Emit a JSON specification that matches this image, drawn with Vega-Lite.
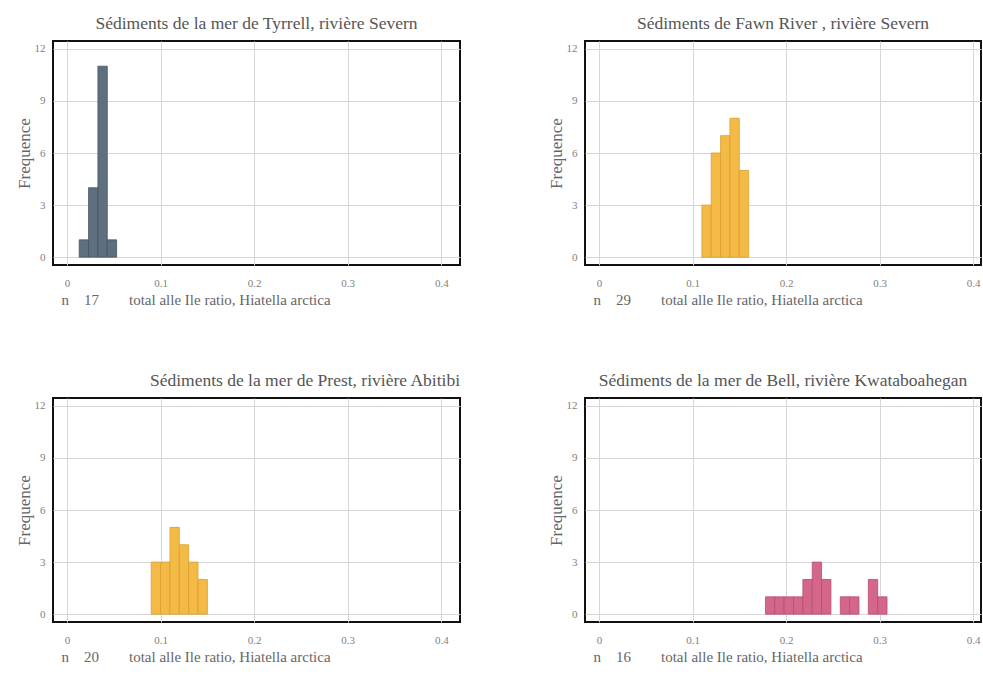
{
  "$schema": "https://vega.github.io/schema/vega-lite/v6.json",
  "background": "white",
  "padding": {"left": 14, "top": 13, "right": 0, "bottom": 0},
  "datasets": {
    "bars": [
      {"panel": 1, "x0": 0.013, "x1": 0.023, "count": 1},
      {"panel": 1, "x0": 0.023, "x1": 0.033, "count": 4},
      {"panel": 1, "x0": 0.033, "x1": 0.043, "count": 11},
      {"panel": 1, "x0": 0.043, "x1": 0.053, "count": 1},
      {"panel": 2, "x0": 0.11, "x1": 0.12, "count": 3},
      {"panel": 2, "x0": 0.12, "x1": 0.13, "count": 6},
      {"panel": 2, "x0": 0.13, "x1": 0.14, "count": 7},
      {"panel": 2, "x0": 0.14, "x1": 0.15, "count": 8},
      {"panel": 2, "x0": 0.15, "x1": 0.16, "count": 5},
      {"panel": 3, "x0": 0.09, "x1": 0.10, "count": 3},
      {"panel": 3, "x0": 0.10, "x1": 0.11, "count": 3},
      {"panel": 3, "x0": 0.11, "x1": 0.12, "count": 5},
      {"panel": 3, "x0": 0.12, "x1": 0.13, "count": 4},
      {"panel": 3, "x0": 0.13, "x1": 0.14, "count": 3},
      {"panel": 3, "x0": 0.14, "x1": 0.15, "count": 2},
      {"panel": 4, "x0": 0.178, "x1": 0.188, "count": 1},
      {"panel": 4, "x0": 0.188, "x1": 0.198, "count": 1},
      {"panel": 4, "x0": 0.198, "x1": 0.208, "count": 1},
      {"panel": 4, "x0": 0.208, "x1": 0.218, "count": 1},
      {"panel": 4, "x0": 0.218, "x1": 0.228, "count": 2},
      {"panel": 4, "x0": 0.228, "x1": 0.238, "count": 3},
      {"panel": 4, "x0": 0.238, "x1": 0.248, "count": 2},
      {"panel": 4, "x0": 0.258, "x1": 0.268, "count": 1},
      {"panel": 4, "x0": 0.268, "x1": 0.278, "count": 1},
      {"panel": 4, "x0": 0.288, "x1": 0.298, "count": 2},
      {"panel": 4, "x0": 0.298, "x1": 0.308, "count": 1}
    ]
  },
  "config": {
    "font": "Liberation Serif",
    "view": {"stroke": "#111111", "strokeWidth": 2},
    "title": {"fontSize": 17.5, "fontWeight": "normal", "color": "#555555", "offset": 9},
    "axis": {
      "grid": true,
      "gridColor": "#d6d6d6",
      "gridWidth": 1,
      "domain": false,
      "ticks": false,
      "labelColor": "#808080",
      "labelFontSize": 11,
      "titleColor": "#666666",
      "titleFontWeight": "normal",
      "titleFontSize": 15
    },
    "axisX": {"labelPadding": 12},
    "axisY": {"labelPadding": 8, "titlePadding": 1, "titleFontSize": 17}
  },
  "vconcat": [
    {
      "hconcat": [
        {
          "title": {"text": "Sédiments de la mer de Tyrrell, rivière Severn"},
          "width": 407, "height": 224,
          "data": {"name": "bars"},
          "transform": [{"filter": "datum.panel == 1"}],
          "mark": {"type": "rect", "color": "#5e6f80", "stroke": "#465666", "strokeWidth": 0.8},
          "encoding": {
            "x": {"field": "x0", "type": "quantitative", "scale": {"domain": [-0.015, 0.42], "nice": false, "zero": false},
                  "axis": {"values": [0, 0.1, 0.2, 0.3, 0.4], "format": "~g", "title": "n\u00a0\u00a0\u00a0\u00a017\u00a0\u00a0\u00a0\u00a0\u00a0\u00a0\u00a0\u00a0total alle Ile ratio, Hiatella arctica", "titleAnchor": "start", "titleAlign": "left", "titleX": 8, "titleY": 27}},
            "x2": {"field": "x1"},
            "y": {"field": "count", "type": "quantitative", "scale": {"domain": [-0.45, 12.45], "nice": false, "zero": false},
                  "axis": {"values": [0, 3, 6, 9, 12], "title": "Frequence"}},
            "y2": {"datum": 0}
          }
        },
        {
          "title": {"text": "Sédiments de Fawn River , rivière Severn"},
          "width": 396, "height": 224,
          "data": {"name": "bars"},
          "transform": [{"filter": "datum.panel == 2"}],
          "mark": {"type": "rect", "color": "#f3bb45", "stroke": "#d9a030", "strokeWidth": 0.8},
          "encoding": {
            "x": {"field": "x0", "type": "quantitative", "scale": {"domain": [-0.015, 0.4085], "nice": false, "zero": false},
                  "axis": {"values": [0, 0.1, 0.2, 0.3, 0.4], "format": "~g", "title": "n\u00a0\u00a0\u00a0\u00a029\u00a0\u00a0\u00a0\u00a0\u00a0\u00a0\u00a0\u00a0total alle Ile ratio, Hiatella arctica", "titleAnchor": "start", "titleAlign": "left", "titleX": 8, "titleY": 27}},
            "x2": {"field": "x1"},
            "y": {"field": "count", "type": "quantitative", "scale": {"domain": [-0.45, 12.45], "nice": false, "zero": false},
                  "axis": {"values": [0, 3, 6, 9, 12], "title": "Frequence"}},
            "y2": {"datum": 0}
          }
        }
      ],
      "spacing": 85
    },
    {
      "hconcat": [
        {
          "title": {"text": "Sédiments de la mer de Prest, rivière Abitibi", "anchor": "end"},
          "width": 407, "height": 224,
          "data": {"name": "bars"},
          "transform": [{"filter": "datum.panel == 3"}],
          "mark": {"type": "rect", "color": "#f3bb45", "stroke": "#d9a030", "strokeWidth": 0.8},
          "encoding": {
            "x": {"field": "x0", "type": "quantitative", "scale": {"domain": [-0.015, 0.42], "nice": false, "zero": false},
                  "axis": {"values": [0, 0.1, 0.2, 0.3, 0.4], "format": "~g", "title": "n\u00a0\u00a0\u00a0\u00a020\u00a0\u00a0\u00a0\u00a0\u00a0\u00a0\u00a0\u00a0total alle Ile ratio, Hiatella arctica", "titleAnchor": "start", "titleAlign": "left", "titleX": 8, "titleY": 27}},
            "x2": {"field": "x1"},
            "y": {"field": "count", "type": "quantitative", "scale": {"domain": [-0.45, 12.45], "nice": false, "zero": false},
                  "axis": {"values": [0, 3, 6, 9, 12], "title": "Frequence"}},
            "y2": {"datum": 0}
          }
        },
        {
          "title": {"text": "Sédiments de la mer de Bell, rivière Kwataboahegan"},
          "width": 396, "height": 224,
          "data": {"name": "bars"},
          "transform": [{"filter": "datum.panel == 4"}],
          "mark": {"type": "rect", "color": "#d4668a", "stroke": "#b84c70", "strokeWidth": 0.8},
          "encoding": {
            "x": {"field": "x0", "type": "quantitative", "scale": {"domain": [-0.015, 0.4085], "nice": false, "zero": false},
                  "axis": {"values": [0, 0.1, 0.2, 0.3, 0.4], "format": "~g", "title": "n\u00a0\u00a0\u00a0\u00a016\u00a0\u00a0\u00a0\u00a0\u00a0\u00a0\u00a0\u00a0total alle Ile ratio, Hiatella arctica", "titleAnchor": "start", "titleAlign": "left", "titleX": 8, "titleY": 27}},
            "x2": {"field": "x1"},
            "y": {"field": "count", "type": "quantitative", "scale": {"domain": [-0.45, 12.45], "nice": false, "zero": false},
                  "axis": {"values": [0, 3, 6, 9, 12], "title": "Frequence"}},
            "y2": {"datum": 0}
          }
        }
      ],
      "spacing": 85
    }
  ],
  "spacing": 62
}
